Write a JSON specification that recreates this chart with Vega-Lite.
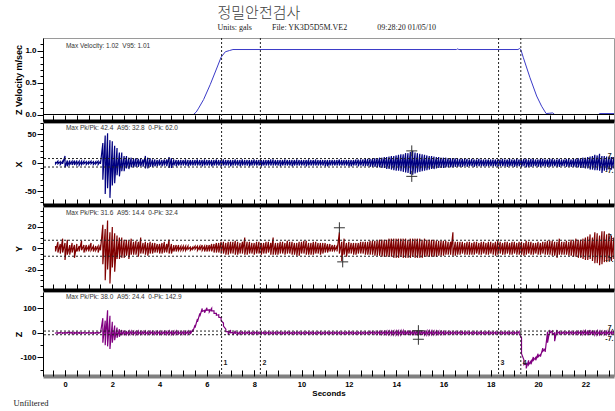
{
"$schema": "https://vega.github.io/schema/vega-lite/v6.json",
"usermeta": {"embedOptions": {"actions": false}},
"padding": {"left": 13, "top": 6, "right": 0, "bottom": 0},
"background": "white",
"config": {"view": {"stroke": "#9a9a9a", "strokeWidth": 1}, "font": "Liberation Sans", "axis": {"grid": false, "labelFont": "Liberation Sans", "titleFont": "Liberation Sans"}},
"title": {"text": "정밀안전검사", "subtitle": "\u00a0\u00a0\u00a0Units: gals\u00a0\u00a0\u00a0\u00a0\u00a0\u00a0\u00a0\u00a0\u00a0\u00a0File: YK3D5D5M.VE2\u00a0\u00a0\u00a0\u00a0\u00a0\u00a0\u00a0\u00a0\u00a0\u00a0\u00a0\u00a0\u00a0\u00a0\u00a009:28:20 01/05/10", "anchor": "start", "dx": 204, "font": "Noto Sans CJK KR", "fontSize": 15, "fontWeight": 300, "color": "#404040", "subtitleFont": "Liberation Serif", "subtitleFontSize": 8, "subtitleColor": "#222222", "subtitlePadding": 3, "offset": 5},
"datasets": {
"vel": [{"t":5.43,"v":0},{"t":5.55,"v":0.04},{"t":5.65,"v":0.1},{"t":5.86,"v":0.235},{"t":6.14,"v":0.47},{"t":6.42,"v":0.73},{"t":6.6,"v":0.9},{"t":6.78,"v":0.985},{"t":6.96,"v":1.005},{"t":7.1,"v":1.02},{"t":16.55,"v":1.02},{"t":16.6,"v":1.03},{"t":16.65,"v":1.02},{"t":19.15,"v":1.02},{"t":19.22,"v":1.035},{"t":19.27,"v":1.02},{"t":19.38,"v":0.89},{"t":19.66,"v":0.576},{"t":19.94,"v":0.29},{"t":20.15,"v":0.13},{"t":20.34,"v":0.015},{"t":20.5,"v":0.02},{"t":20.62,"v":0.025},{"t":20.7,"v":0},{"t":22.55,"v":0},{"t":22.6,"v":0.015},{"t":23.3,"v":0.015}],
"zero": [{"v":0}],
"marks": [{"t":6.62,"n":"1"},{"t":8.26,"n":"2"},{"t":18.33,"n":"3"},{"t":19.27,"n":"4"}],
"lev": [{"v":7.5,"lab":"7.","t":23.19},{"v":-7.5,"lab":"-7.","t":23.19}],
"notes": [{"panel":"V","label":"Max Velocity: 1.02\u00a0\u00a0V95: 1.01","t":0.04,"v":1.083},{"panel":"X","label":"Max Pk/Pk: 42.4\u00a0\u00a0A95: 32.8\u00a0\u00a00-Pk: 62.0","t":0.04,"v":61.8},{"panel":"Y","label":"Max Pk/Pk: 31.6\u00a0\u00a0A95: 14.4\u00a0\u00a00-Pk: 32.4","t":0.04,"v":33.5},{"panel":"Z","label":"Max Pk/Pk: 38.0\u00a0\u00a0A95: 24.4\u00a0\u00a00-Pk: 142.9","t":0.04,"v":145}],
"cross": [{"panel":"X","t":14.66,"v":21},{"panel":"X","t":14.66,"v":-24},{"panel":"Y","t":11.6,"v":19.2},{"panel":"Y","t":11.74,"v":-12.8},{"panel":"Z","t":14.94,"v":9},{"panel":"Z","t":14.94,"v":-26}],
"sig": [
{"t":-0.4,"Xh":2,"Xl":-2,"Yh":2,"Yl":-3,"Zh":2,"Zl":-1},
{"t":-0.3,"Xh":3,"Xl":-2,"Yh":6,"Yl":-4,"Zh":1,"Zl":-2},
{"t":-0.2,"Xh":2,"Xl":-3,"Yh":4,"Yl":-5,"Zh":2,"Zl":-1},
{"t":-0.1,"Xh":3,"Xl":-2,"Yh":9,"Yl":-4,"Zh":1,"Zl":-2},
{"t":0,"Xh":12,"Xl":-8,"Yh":5,"Yl":-11,"Zh":2,"Zl":-2},
{"t":0.1,"Xh":4,"Xl":-6,"Yh":8,"Yl":-6,"Zh":2,"Zl":-1},
{"t":0.2,"Xh":4,"Xl":-3,"Yh":3,"Yl":-6,"Zh":3,"Zl":-2},
{"t":0.3,"Xh":3,"Xl":-4,"Yh":5,"Yl":-4,"Zh":3,"Zl":-3},
{"t":0.4,"Xh":4,"Xl":-4,"Yh":3,"Yl":-9,"Zh":2,"Zl":-3},
{"t":0.5,"Xh":4,"Xl":-3,"Yh":4,"Yl":-3,"Zh":3,"Zl":-2},
{"t":0.6,"Xh":3,"Xl":-4,"Yh":2,"Yl":-3,"Zh":2,"Zl":-2},
{"t":0.7,"Xh":3,"Xl":-3,"Yh":7,"Yl":-2,"Zh":1,"Zl":-2},
{"t":0.8,"Xh":3,"Xl":-2,"Yh":3,"Yl":-4,"Zh":2,"Zl":-1},
{"t":0.9,"Xh":2,"Xl":-3,"Yh":3,"Yl":-2,"Zh":1,"Zl":-2},
{"t":1,"Xh":2,"Xl":-2,"Yh":2,"Yl":-3,"Zh":2,"Zl":-1},
{"t":1.1,"Xh":3,"Xl":-2,"Yh":5,"Yl":-2,"Zh":1,"Zl":-2},
{"t":1.2,"Xh":2,"Xl":-3,"Yh":2,"Yl":-3,"Zh":2,"Zl":-2},
{"t":1.3,"Xh":2,"Xl":-2,"Yh":2,"Yl":-2,"Zh":1,"Zl":-1},
{"t":1.4,"Xh":3,"Xl":-3,"Yh":2,"Yl":-4,"Zh":2,"Zl":-2},
{"t":1.5,"Xh":3,"Xl":-2,"Yh":3,"Yl":-2,"Zh":2,"Zl":-1},
{"t":1.6,"Xh":35,"Xl":-30,"Yh":22,"Yl":-15,"Zh":60,"Zl":-40},
{"t":1.7,"Xh":48,"Xl":-55,"Yh":18,"Yl":-30,"Zh":50,"Zl":-50},
{"t":1.8,"Xh":52,"Xl":-45,"Yh":26,"Yl":-20,"Zh":92,"Zl":-55},
{"t":1.9,"Xh":40,"Xl":-62,"Yh":15,"Yl":-33,"Zh":70,"Zl":-66},
{"t":2,"Xh":38,"Xl":-40,"Yh":20,"Yl":-18,"Zh":45,"Zl":-40},
{"t":2.1,"Xh":30,"Xl":-36,"Yh":14,"Yl":-22,"Zh":30,"Zl":-30},
{"t":2.2,"Xh":26,"Xl":-22,"Yh":12,"Yl":-10,"Zh":22,"Zl":-20},
{"t":2.3,"Xh":18,"Xl":-24,"Yh":10,"Yl":-10,"Zh":15,"Zl":-16},
{"t":2.4,"Xh":18,"Xl":-15,"Yh":10,"Yl":-9,"Zh":12,"Zl":-10},
{"t":2.5,"Xh":12,"Xl":-15,"Yh":8,"Yl":-9,"Zh":10,"Zl":-10},
{"t":2.6,"Xh":12,"Xl":-10,"Yh":8,"Yl":-7,"Zh":8,"Zl":-7},
{"t":2.7,"Xh":9,"Xl":-11,"Yh":7,"Yl":-10,"Zh":7,"Zl":-7},
{"t":2.8,"Xh":9,"Xl":-8,"Yh":9,"Yl":-6,"Zh":7,"Zl":-6},
{"t":2.9,"Xh":7,"Xl":-8,"Yh":6,"Yl":-6,"Zh":6,"Zl":-6},
{"t":3,"Xh":8,"Xl":-7,"Yh":7,"Yl":-6,"Zh":6,"Zl":-7},
{"t":3.1,"Xh":7,"Xl":-7,"Yh":6,"Yl":-8,"Zh":7,"Zl":-6},
{"t":3.2,"Xh":7,"Xl":-6,"Yh":10,"Yl":-5,"Zh":6,"Zl":-6},
{"t":3.3,"Xh":6,"Xl":-7,"Yh":5,"Yl":-5,"Zh":6,"Zl":-5},
{"t":3.4,"Xh":12,"Xl":-10,"Yh":6,"Yl":-6,"Zh":7,"Zl":-6},
{"t":3.5,"Xh":9,"Xl":-10,"Yh":5,"Yl":-7,"Zh":5,"Zl":-6},
{"t":3.6,"Xh":8,"Xl":-7,"Yh":6,"Yl":-5,"Zh":6,"Zl":-5},
{"t":3.7,"Xh":6,"Xl":-7,"Yh":5,"Yl":-5,"Zh":6,"Zl":-6},
{"t":3.8,"Xh":6,"Xl":-6,"Yh":5,"Yl":-4,"Zh":5,"Zl":-6},
{"t":3.9,"Xh":5,"Xl":-6,"Yh":4,"Yl":-4,"Zh":6,"Zl":-5},
{"t":4,"Xh":6,"Xl":-5,"Yh":4,"Yl":-5,"Zh":6,"Zl":-6},
{"t":4.1,"Xh":5,"Xl":-6,"Yh":5,"Yl":-5,"Zh":5,"Zl":-6},
{"t":4.2,"Xh":6,"Xl":-5,"Yh":6,"Yl":-4,"Zh":6,"Zl":-5},
{"t":4.3,"Xh":6,"Xl":-6,"Yh":4,"Yl":-4,"Zh":6,"Zl":-6},
{"t":4.4,"Xh":10,"Xl":-9,"Yh":8,"Yl":-5,"Zh":7,"Zl":-6},
{"t":4.5,"Xh":8,"Xl":-9,"Yh":4,"Yl":-5,"Zh":6,"Zl":-7},
{"t":4.6,"Xh":6,"Xl":-5,"Yh":3,"Yl":-3,"Zh":6,"Zl":-6},
{"t":4.7,"Xh":5,"Xl":-6,"Yh":3,"Yl":-3,"Zh":7,"Zl":-6},
{"t":4.8,"Xh":5,"Xl":-5,"Yh":3,"Yl":-2,"Zh":6,"Zl":-5},
{"t":4.9,"Xh":5,"Xl":-5,"Yh":2,"Yl":-2,"Zh":5,"Zl":-6},
{"t":5,"Xh":5,"Xl":-5,"Yh":2,"Yl":-2,"Zh":6,"Zl":-6},
{"t":5.1,"Xh":6,"Xl":-5,"Yh":2,"Yl":-2,"Zh":6,"Zl":-5},
{"t":5.2,"Xh":5,"Xl":-6,"Yh":2,"Yl":-1,"Zh":7,"Zl":-6},
{"t":5.3,"Xh":5,"Xl":-5,"Yh":1,"Yl":-2,"Zh":6,"Zl":-5},
{"t":5.4,"Xh":5,"Xl":-5,"Yh":1,"Yl":-1,"Zh":14,"Zl":4},
{"t":5.5,"Xh":5,"Xl":-5,"Yh":2,"Yl":-1,"Zh":32,"Zl":22},
{"t":5.6,"Xh":6,"Xl":-5,"Yh":2,"Yl":-2,"Zh":57,"Zl":45},
{"t":5.7,"Xh":5,"Xl":-5,"Yh":2,"Yl":-2,"Zh":80,"Zl":68},
{"t":5.8,"Xh":5,"Xl":-6,"Yh":3,"Yl":-2,"Zh":100,"Zl":88},
{"t":5.9,"Xh":6,"Xl":-5,"Yh":2,"Yl":-3,"Zh":92,"Zl":82},
{"t":6,"Xh":5,"Xl":-5,"Yh":3,"Yl":-3,"Zh":103,"Zl":92},
{"t":6.1,"Xh":5,"Xl":-5,"Yh":3,"Yl":-3,"Zh":94,"Zl":85},
{"t":6.2,"Xh":5,"Xl":-6,"Yh":4,"Yl":-3,"Zh":100,"Zl":90},
{"t":6.3,"Xh":5,"Xl":-5,"Yh":4,"Yl":-4,"Zh":90,"Zl":80},
{"t":6.4,"Xh":6,"Xl":-5,"Yh":5,"Yl":-4,"Zh":80,"Zl":72},
{"t":6.5,"Xh":5,"Xl":-5,"Yh":5,"Yl":-4,"Zh":74,"Zl":64},
{"t":6.6,"Xh":5,"Xl":-6,"Yh":6,"Yl":-5,"Zh":62,"Zl":50},
{"t":6.7,"Xh":6,"Xl":-5,"Yh":6,"Yl":-5,"Zh":40,"Zl":28},
{"t":6.8,"Xh":5,"Xl":-5,"Yh":5,"Yl":-6,"Zh":15,"Zl":5},
{"t":6.9,"Xh":5,"Xl":-5,"Yh":6,"Yl":-6,"Zh":5,"Zl":-8},
{"t":7,"Xh":5,"Xl":-6,"Yh":6,"Yl":-5,"Zh":12,"Zl":0},
{"t":7.1,"Xh":5,"Xl":-5,"Yh":6,"Yl":-5,"Zh":2,"Zl":-9},
{"t":7.2,"Xh":6,"Xl":-5,"Yh":7,"Yl":-6,"Zh":9,"Zl":-2},
{"t":7.3,"Xh":5,"Xl":-5,"Yh":6,"Yl":-6,"Zh":2,"Zl":-7},
{"t":7.4,"Xh":5,"Xl":-6,"Yh":5,"Yl":-5,"Zh":5,"Zl":-4},
{"t":7.5,"Xh":6,"Xl":-5,"Yh":6,"Yl":-5,"Zh":4,"Zl":-4},
{"t":7.6,"Xh":5,"Xl":-5,"Yh":10,"Yl":-6,"Zh":4,"Zl":-4},
{"t":7.7,"Xh":5,"Xl":-5,"Yh":6,"Yl":-6,"Zh":4,"Zl":-3},
{"t":7.8,"Xh":5,"Xl":-6,"Yh":6,"Yl":-5,"Zh":4,"Zl":-4},
{"t":7.9,"Xh":5,"Xl":-5,"Yh":5,"Yl":-5,"Zh":3,"Zl":-4},
{"t":8,"Xh":6,"Xl":-5,"Yh":5,"Yl":-6,"Zh":4,"Zl":-4},
{"t":8.1,"Xh":5,"Xl":-5,"Yh":6,"Yl":-5,"Zh":4,"Zl":-3},
{"t":8.2,"Xh":5,"Xl":-5,"Yh":6,"Yl":-5,"Zh":3,"Zl":-4},
{"t":8.3,"Xh":5,"Xl":-6,"Yh":5,"Yl":-6,"Zh":4,"Zl":-4},
{"t":8.4,"Xh":5,"Xl":-5,"Yh":5,"Yl":-5,"Zh":4,"Zl":-3},
{"t":8.5,"Xh":5,"Xl":-5,"Yh":6,"Yl":-5,"Zh":3,"Zl":-4},
{"t":8.6,"Xh":5,"Xl":-5,"Yh":6,"Yl":-4,"Zh":4,"Zl":-4},
{"t":8.7,"Xh":6,"Xl":-5,"Yh":5,"Yl":-6,"Zh":4,"Zl":-4},
{"t":8.8,"Xh":6,"Xl":-5,"Yh":10,"Yl":-6,"Zh":3,"Zl":-4},
{"t":8.9,"Xh":5,"Xl":-5,"Yh":5,"Yl":-6,"Zh":4,"Zl":-4},
{"t":9,"Xh":5,"Xl":-5,"Yh":5,"Yl":-6,"Zh":4,"Zl":-3},
{"t":9.1,"Xh":5,"Xl":-6,"Yh":6,"Yl":-5,"Zh":4,"Zl":-4},
{"t":9.2,"Xh":5,"Xl":-5,"Yh":6,"Yl":-5,"Zh":3,"Zl":-4},
{"t":9.3,"Xh":6,"Xl":-5,"Yh":5,"Yl":-6,"Zh":4,"Zl":-4},
{"t":9.4,"Xh":5,"Xl":-5,"Yh":7,"Yl":-5,"Zh":4,"Zl":-3},
{"t":9.5,"Xh":5,"Xl":-5,"Yh":6,"Yl":-5,"Zh":4,"Zl":-4},
{"t":9.6,"Xh":5,"Xl":-6,"Yh":6,"Yl":-6,"Zh":3,"Zl":-4},
{"t":9.7,"Xh":5,"Xl":-5,"Yh":5,"Yl":-6,"Zh":4,"Zl":-4},
{"t":9.8,"Xh":6,"Xl":-5,"Yh":5,"Yl":-7,"Zh":4,"Zl":-3},
{"t":9.9,"Xh":5,"Xl":-5,"Yh":6,"Yl":-7,"Zh":4,"Zl":-4},
{"t":10,"Xh":5,"Xl":-5,"Yh":6,"Yl":-5,"Zh":3,"Zl":-4},
{"t":10.1,"Xh":5,"Xl":-5,"Yh":7,"Yl":-5,"Zh":4,"Zl":-4},
{"t":10.2,"Xh":5,"Xl":-6,"Yh":7,"Yl":-6,"Zh":4,"Zl":-3},
{"t":10.3,"Xh":6,"Xl":-5,"Yh":5,"Yl":-6,"Zh":3,"Zl":-4},
{"t":10.4,"Xh":5,"Xl":-5,"Yh":5,"Yl":-6,"Zh":4,"Zl":-4},
{"t":10.5,"Xh":5,"Xl":-5,"Yh":6,"Yl":-6,"Zh":4,"Zl":-4},
{"t":10.6,"Xh":6,"Xl":-5,"Yh":6,"Yl":-5,"Zh":3,"Zl":-4},
{"t":10.7,"Xh":5,"Xl":-5,"Yh":5,"Yl":-5,"Zh":4,"Zl":-3},
{"t":10.8,"Xh":5,"Xl":-5,"Yh":5,"Yl":-6,"Zh":4,"Zl":-4},
{"t":10.9,"Xh":5,"Xl":-5,"Yh":5,"Yl":-5,"Zh":3,"Zl":-4},
{"t":11,"Xh":5,"Xl":-6,"Yh":5,"Yl":-4,"Zh":4,"Zl":-4},
{"t":11.1,"Xh":5,"Xl":-6,"Yh":4,"Yl":-4,"Zh":4,"Zl":-3},
{"t":11.2,"Xh":5,"Xl":-5,"Yh":4,"Yl":-3,"Zh":3,"Zl":-4},
{"t":11.3,"Xh":5,"Xl":-5,"Yh":3,"Yl":-3,"Zh":4,"Zl":-4},
{"t":11.4,"Xh":5,"Xl":-5,"Yh":3,"Yl":-2,"Zh":4,"Zl":-3},
{"t":11.5,"Xh":5,"Xl":-5,"Yh":2,"Yl":-3,"Zh":3,"Zl":-4},
{"t":11.6,"Xh":6,"Xl":-5,"Yh":15,"Yl":-5,"Zh":4,"Zl":-4},
{"t":11.7,"Xh":5,"Xl":-5,"Yh":6,"Yl":-12,"Zh":4,"Zl":-4},
{"t":11.8,"Xh":5,"Xl":-5,"Yh":9,"Yl":-6,"Zh":3,"Zl":-4},
{"t":11.9,"Xh":5,"Xl":-5,"Yh":5,"Yl":-8,"Zh":4,"Zl":-4},
{"t":12,"Xh":5,"Xl":-6,"Yh":6,"Yl":-5,"Zh":4,"Zl":-3},
{"t":12.1,"Xh":5,"Xl":-6,"Yh":5,"Yl":-5,"Zh":4,"Zl":-4},
{"t":12.2,"Xh":5,"Xl":-5,"Yh":5,"Yl":-6,"Zh":4,"Zl":-4},
{"t":12.3,"Xh":6,"Xl":-5,"Yh":5,"Yl":-6,"Zh":3,"Zl":-4},
{"t":12.4,"Xh":6,"Xl":-6,"Yh":5,"Yl":-5,"Zh":4,"Zl":-4},
{"t":12.5,"Xh":6,"Xl":-5,"Yh":6,"Yl":-5,"Zh":4,"Zl":-4},
{"t":12.6,"Xh":6,"Xl":-6,"Yh":6,"Yl":-5,"Zh":4,"Zl":-4},
{"t":12.7,"Xh":7,"Xl":-6,"Yh":6,"Yl":-6,"Zh":4,"Zl":-4},
{"t":12.8,"Xh":7,"Xl":-6,"Yh":6,"Yl":-6,"Zh":4,"Zl":-4},
{"t":12.9,"Xh":7,"Xl":-7,"Yh":7,"Yl":-6,"Zh":5,"Zl":-4},
{"t":13,"Xh":7,"Xl":-7,"Yh":7,"Yl":-6,"Zh":5,"Zl":-4},
{"t":13.1,"Xh":8,"Xl":-7,"Yh":7,"Yl":-7,"Zh":5,"Zl":-5},
{"t":13.2,"Xh":8,"Xl":-8,"Yh":7,"Yl":-7,"Zh":5,"Zl":-5},
{"t":13.3,"Xh":9,"Xl":-8,"Yh":8,"Yl":-7,"Zh":6,"Zl":-5},
{"t":13.4,"Xh":9,"Xl":-9,"Yh":8,"Yl":-8,"Zh":6,"Zl":-6},
{"t":13.5,"Xh":10,"Xl":-9,"Yh":8,"Yl":-8,"Zh":6,"Zl":-6},
{"t":13.6,"Xh":10,"Xl":-11,"Yh":8,"Yl":-8,"Zh":7,"Zl":-6},
{"t":13.7,"Xh":11,"Xl":-11,"Yh":9,"Yl":-8,"Zh":7,"Zl":-7},
{"t":13.8,"Xh":12,"Xl":-12,"Yh":9,"Yl":-8,"Zh":7,"Zl":-7},
{"t":13.9,"Xh":12,"Xl":-13,"Yh":9,"Yl":-9,"Zh":8,"Zl":-7},
{"t":14,"Xh":13,"Xl":-14,"Yh":9,"Yl":-9,"Zh":8,"Zl":-8},
{"t":14.1,"Xh":14,"Xl":-14,"Yh":9,"Yl":-9,"Zh":8,"Zl":-8},
{"t":14.2,"Xh":15,"Xl":-15,"Yh":9,"Yl":-8,"Zh":9,"Zl":-8},
{"t":14.3,"Xh":15,"Xl":-16,"Yh":9,"Yl":-9,"Zh":9,"Zl":-9},
{"t":14.4,"Xh":17,"Xl":-17,"Yh":9,"Yl":-9,"Zh":9,"Zl":-9},
{"t":14.5,"Xh":17,"Xl":-18,"Yh":8,"Yl":-9,"Zh":10,"Zl":-9},
{"t":14.6,"Xh":19,"Xl":-20,"Yh":9,"Yl":-9,"Zh":10,"Zl":-10},
{"t":14.7,"Xh":21,"Xl":-21,"Yh":9,"Yl":-8,"Zh":10,"Zl":-10},
{"t":14.8,"Xh":18,"Xl":-19,"Yh":9,"Yl":-9,"Zh":10,"Zl":-10},
{"t":14.9,"Xh":17,"Xl":-17,"Yh":9,"Yl":-9,"Zh":10,"Zl":-10},
{"t":15,"Xh":16,"Xl":-16,"Yh":9,"Yl":-9,"Zh":9,"Zl":-9},
{"t":15.1,"Xh":15,"Xl":-15,"Yh":8,"Yl":-9,"Zh":9,"Zl":-9},
{"t":15.2,"Xh":14,"Xl":-14,"Yh":9,"Yl":-8,"Zh":9,"Zl":-8},
{"t":15.3,"Xh":13,"Xl":-13,"Yh":8,"Yl":-8,"Zh":8,"Zl":-8},
{"t":15.4,"Xh":12,"Xl":-12,"Yh":8,"Yl":-8,"Zh":8,"Zl":-8},
{"t":15.5,"Xh":12,"Xl":-11,"Yh":8,"Yl":-8,"Zh":8,"Zl":-7},
{"t":15.6,"Xh":11,"Xl":-11,"Yh":8,"Yl":-8,"Zh":7,"Zl":-7},
{"t":15.7,"Xh":10,"Xl":-10,"Yh":7,"Yl":-8,"Zh":7,"Zl":-7},
{"t":15.8,"Xh":10,"Xl":-9,"Yh":7,"Yl":-7,"Zh":7,"Zl":-6},
{"t":15.9,"Xh":9,"Xl":-9,"Yh":7,"Yl":-7,"Zh":6,"Zl":-6},
{"t":16,"Xh":9,"Xl":-9,"Yh":7,"Yl":-7,"Zh":6,"Zl":-6},
{"t":16.1,"Xh":9,"Xl":-8,"Yh":7,"Yl":-6,"Zh":5,"Zl":-5},
{"t":16.2,"Xh":8,"Xl":-8,"Yh":6,"Yl":-6,"Zh":5,"Zl":-5},
{"t":16.3,"Xh":8,"Xl":-8,"Yh":6,"Yl":-6,"Zh":5,"Zl":-5},
{"t":16.4,"Xh":8,"Xl":-8,"Yh":15,"Yl":-7,"Zh":5,"Zl":-5},
{"t":16.5,"Xh":8,"Xl":-7,"Yh":6,"Yl":-7,"Zh":5,"Zl":-5},
{"t":16.6,"Xh":7,"Xl":-7,"Yh":6,"Yl":-6,"Zh":5,"Zl":-4},
{"t":16.7,"Xh":7,"Xl":-7,"Yh":6,"Yl":-6,"Zh":5,"Zl":-4},
{"t":16.8,"Xh":7,"Xl":-7,"Yh":6,"Yl":-5,"Zh":5,"Zl":-5},
{"t":16.9,"Xh":7,"Xl":-6,"Yh":5,"Yl":-6,"Zh":4,"Zl":-5},
{"t":17,"Xh":7,"Xl":-7,"Yh":6,"Yl":-6,"Zh":5,"Zl":-4},
{"t":17.1,"Xh":6,"Xl":-6,"Yh":6,"Yl":-6,"Zh":4,"Zl":-4},
{"t":17.2,"Xh":7,"Xl":-6,"Yh":5,"Yl":-6,"Zh":4,"Zl":-5},
{"t":17.3,"Xh":6,"Xl":-7,"Yh":6,"Yl":-6,"Zh":5,"Zl":-4},
{"t":17.4,"Xh":6,"Xl":-6,"Yh":6,"Yl":-5,"Zh":4,"Zl":-4},
{"t":17.5,"Xh":7,"Xl":-6,"Yh":5,"Yl":-6,"Zh":4,"Zl":-5},
{"t":17.6,"Xh":6,"Xl":-6,"Yh":6,"Yl":-6,"Zh":5,"Zl":-4},
{"t":17.7,"Xh":6,"Xl":-6,"Yh":6,"Yl":-5,"Zh":4,"Zl":-4},
{"t":17.8,"Xh":6,"Xl":-6,"Yh":5,"Yl":-6,"Zh":4,"Zl":-5},
{"t":17.9,"Xh":6,"Xl":-6,"Yh":6,"Yl":-6,"Zh":5,"Zl":-4},
{"t":18,"Xh":6,"Xl":-6,"Yh":6,"Yl":-5,"Zh":4,"Zl":-4},
{"t":18.1,"Xh":6,"Xl":-6,"Yh":5,"Yl":-6,"Zh":4,"Zl":-4},
{"t":18.2,"Xh":6,"Xl":-6,"Yh":6,"Yl":-7,"Zh":4,"Zl":-4},
{"t":18.3,"Xh":6,"Xl":-7,"Yh":7,"Yl":-6,"Zh":4,"Zl":-4},
{"t":18.4,"Xh":6,"Xl":-6,"Yh":6,"Yl":-5,"Zh":4,"Zl":-4},
{"t":18.5,"Xh":7,"Xl":-6,"Yh":5,"Yl":-6,"Zh":4,"Zl":-4},
{"t":18.6,"Xh":6,"Xl":-6,"Yh":6,"Yl":-6,"Zh":4,"Zl":-4},
{"t":18.7,"Xh":6,"Xl":-7,"Yh":6,"Yl":-5,"Zh":4,"Zl":-4},
{"t":18.8,"Xh":7,"Xl":-6,"Yh":5,"Yl":-6,"Zh":4,"Zl":-4},
{"t":18.9,"Xh":6,"Xl":-6,"Yh":6,"Yl":-6,"Zh":4,"Zl":-4},
{"t":19,"Xh":6,"Xl":-7,"Yh":6,"Yl":-5,"Zh":4,"Zl":-4},
{"t":19.1,"Xh":7,"Xl":-6,"Yh":5,"Yl":-6,"Zh":4,"Zl":-4},
{"t":19.2,"Xh":6,"Xl":-6,"Yh":6,"Yl":-6,"Zh":6,"Zl":-4},
{"t":19.3,"Xh":6,"Xl":-7,"Yh":6,"Yl":-6,"Zh":-20,"Zl":-85},
{"t":19.4,"Xh":7,"Xl":-6,"Yh":5,"Yl":-7,"Zh":-110,"Zl":-130},
{"t":19.5,"Xh":7,"Xl":-8,"Yh":7,"Yl":-6,"Zh":-125,"Zl":-145},
{"t":19.6,"Xh":6,"Xl":-7,"Yh":6,"Yl":-5,"Zh":-112,"Zl":-130},
{"t":19.7,"Xh":7,"Xl":-7,"Yh":6,"Yl":-6,"Zh":-115,"Zl":-128},
{"t":19.8,"Xh":7,"Xl":-6,"Yh":5,"Yl":-6,"Zh":-98,"Zl":-112},
{"t":19.9,"Xh":6,"Xl":-6,"Yh":5,"Yl":-5,"Zh":-100,"Zl":-112},
{"t":20,"Xh":6,"Xl":-7,"Yh":6,"Yl":-6,"Zh":-85,"Zl":-98},
{"t":20.1,"Xh":7,"Xl":-7,"Yh":5,"Yl":-6,"Zh":-88,"Zl":-97},
{"t":20.2,"Xh":7,"Xl":-6,"Yh":6,"Yl":-5,"Zh":-62,"Zl":-75},
{"t":20.3,"Xh":6,"Xl":-6,"Yh":6,"Yl":-6,"Zh":-65,"Zl":-78},
{"t":20.4,"Xh":6,"Xl":-7,"Yh":7,"Yl":-6,"Zh":5,"Zl":-40},
{"t":20.5,"Xh":7,"Xl":-7,"Yh":7,"Yl":-6,"Zh":12,"Zl":0},
{"t":20.6,"Xh":7,"Xl":-6,"Yh":7,"Yl":-7,"Zh":8,"Zl":-6},
{"t":20.7,"Xh":6,"Xl":-6,"Yh":6,"Yl":-7,"Zh":0,"Zl":-34},
{"t":20.8,"Xh":6,"Xl":-7,"Yh":6,"Yl":-9,"Zh":12,"Zl":-3},
{"t":20.9,"Xh":7,"Xl":-7,"Yh":9,"Yl":-6,"Zh":5,"Zl":-5},
{"t":21,"Xh":6,"Xl":-6,"Yh":6,"Yl":-6,"Zh":4,"Zl":-4},
{"t":21.1,"Xh":6,"Xl":-6,"Yh":6,"Yl":-6,"Zh":5,"Zl":-4},
{"t":21.2,"Xh":7,"Xl":-7,"Yh":7,"Yl":-6,"Zh":4,"Zl":-4},
{"t":21.3,"Xh":7,"Xl":-7,"Yh":6,"Yl":-7,"Zh":5,"Zl":-4},
{"t":21.4,"Xh":6,"Xl":-7,"Yh":8,"Yl":-7,"Zh":5,"Zl":-5},
{"t":21.5,"Xh":7,"Xl":-7,"Yh":7,"Yl":-8,"Zh":5,"Zl":-5},
{"t":21.6,"Xh":7,"Xl":-8,"Yh":9,"Yl":-8,"Zh":5,"Zl":-5},
{"t":21.7,"Xh":8,"Xl":-8,"Yh":8,"Yl":-9,"Zh":6,"Zl":-5},
{"t":21.8,"Xh":8,"Xl":-9,"Yh":8,"Yl":-9,"Zh":6,"Zl":-6},
{"t":21.9,"Xh":9,"Xl":-9,"Yh":9,"Yl":-10,"Zh":7,"Zl":-6},
{"t":22,"Xh":9,"Xl":-10,"Yh":10,"Yl":-11,"Zh":9,"Zl":-10},
{"t":22.1,"Xh":10,"Xl":-10,"Yh":11,"Yl":-11,"Zh":10,"Zl":-10},
{"t":22.2,"Xh":11,"Xl":-12,"Yh":13,"Yl":-10,"Zh":12,"Zl":-9},
{"t":22.3,"Xh":12,"Xl":-12,"Yh":10,"Yl":-12,"Zh":10,"Zl":-9},
{"t":22.4,"Xh":14,"Xl":-13,"Yh":15,"Yl":-14,"Zh":10,"Zl":-8},
{"t":22.5,"Xh":13,"Xl":-13,"Yh":14,"Yl":-14,"Zh":8,"Zl":-8},
{"t":22.6,"Xh":16,"Xl":-14,"Yh":12,"Yl":-16,"Zh":7,"Zl":-7},
{"t":22.7,"Xh":12,"Xl":-18,"Yh":16,"Yl":-15,"Zh":6,"Zl":-6},
{"t":22.8,"Xh":12,"Xl":-14,"Yh":16,"Yl":-13,"Zh":6,"Zl":-7},
{"t":22.9,"Xh":11,"Xl":-14,"Yh":13,"Yl":-13,"Zh":7,"Zl":-6},
{"t":23,"Xh":11,"Xl":-12,"Yh":14,"Yl":-12,"Zh":7,"Zl":-6},
{"t":23.1,"Xh":10,"Xl":-12,"Yh":12,"Yl":-12,"Zh":6,"Zl":-6},
{"t":23.2,"Xh":10,"Xl":-10,"Yh":10,"Yl":-10,"Zh":6,"Zl":-6}
]
},
"vconcat": [{
"title": {"text": "Unfiltered", "orient": "bottom", "anchor": "start", "font": "Liberation Serif", "fontSize": 8.5, "fontWeight": "normal", "color": "#222222", "offset": 1},
"spacing": 0,
"resolve": {"scale": {"y": "independent"}},
"vconcat": [
{"width": 571, "height": 83, "resolve": {"axis": {"x": "independent", "y": "independent"}}, "layer": [
 {"data": {"name": "vel"}, "mark": {"type": "line", "color": "#3a3ac8", "strokeWidth": 1, "clip": true}, "encoding": {
   "x": {"field": "t", "type": "quantitative", "scale": {"domain": [-0.93, 23.21], "nice": false, "zero": false}, "axis": {"orient": "bottom", "values": [-0.5,0,0.5,1,1.5,2,2.5,3,3.5,4,4.5,5,5.5,6,6.5,7,7.5,8,8.5,9,9.5,10,10.5,11,11.5,12,12.5,13,13.5,14,14.5,15,15.5,16,16.5,17,17.5,18,18.5,19,19.5,20,20.5,21,21.5,22,22.5,23], "labels": false, "title": null, "domainColor": "black", "domainWidth": 4, "tickColor": "black", "tickSize": -6, "tickWidth": 1}},
   "y": {"field": "v", "type": "quantitative", "scale": {"domain": [-0.102, 1.201], "nice": false, "zero": false}, "axis": {"orient": "left", "values": [0, 0.5, 1], "format": ".1f", "labelOverlap": false, "labelFlush": false, "labelFontWeight": "bold", "labelFontSize": 8, "labelColor": "black", "labelPadding": 1, "tickSize": 6, "tickColor": "black", "domainColor": "black", "title": "Z Velocity m/sec", "titleFontWeight": "bold", "titleFontSize": 9, "titleColor": "black", "titleX": -25, "titleBaseline": "middle"}}}},
 {"data": {"name": "zero"}, "mark": {"type": "rule", "color": "black", "strokeWidth": 1}, "encoding": {"y": {"field": "v", "type": "quantitative", "scale": {"domain": [-0.102, 1.201], "nice": false, "zero": false}, "axis": {"orient": "left", "values": [0,0.1,0.2,0.3,0.4,0.5,0.6,0.7,0.8,0.9,1,1.1], "labels": false, "domain": false, "title": null, "tickSize": 3, "tickColor": "black"}}}},
 {"data": {"name": "marks"}, "mark": {"type": "rule", "color": "#222222", "strokeWidth": 1, "strokeDash": [2, 2]}, "encoding": {"x": {"field": "t", "type": "quantitative", "scale": {"domain": [-0.93, 23.21], "nice": false, "zero": false}, "axis": null}}},
 {"data": {"name": "notes"}, "transform": [{"filter": "datum.panel == 'V'"}], "mark": {"type": "text", "align": "left", "baseline": "middle", "fontSize": 6.5, "color": "#333333"}, "encoding": {
   "x": {"field": "t", "type": "quantitative", "scale": {"domain": [-0.93, 23.21], "nice": false, "zero": false}, "axis": null},
   "y": {"field": "v", "type": "quantitative", "scale": {"domain": [-0.102, 1.201], "nice": false, "zero": false}, "axis": null},
   "text": {"field": "label"}}}
]},
{"width": 571, "height": 82, "resolve": {"axis": {"x": "independent", "y": "independent"}}, "layer": [
 {"data": {"name": "sig"}, "transform": [{"fold": ["Xh", "Xl"], "as": ["k", "v"]}], "mark": {"type": "line", "color": "#000080", "strokeWidth": 1.2, "clip": true}, "encoding": {
   "x": {"field": "t", "type": "quantitative", "scale": {"domain": [-0.93, 23.21], "nice": false, "zero": false}, "axis": {"orient": "bottom", "values": [-0.5,0,0.5,1,1.5,2,2.5,3,3.5,4,4.5,5,5.5,6,6.5,7,7.5,8,8.5,9,9.5,10,10.5,11,11.5,12,12.5,13,13.5,14,14.5,15,15.5,16,16.5,17,17.5,18,18.5,19,19.5,20,20.5,21,21.5,22,22.5,23], "labels": false, "title": null, "domainColor": "black", "domainWidth": 4, "tickColor": "black", "tickSize": -6, "tickWidth": 1}},
   "y": {"field": "v", "type": "quantitative", "scale": {"domain": [-74.6, 70.3], "nice": false, "zero": false}, "axis": {"orient": "left", "values": [-50, 0, 50], "labelExpr": "toString(datum.value)", "labelOverlap": false, "labelFlush": false, "labelFontWeight": "bold", "labelFontSize": 8, "labelColor": "black", "labelPadding": 1, "tickSize": 6, "tickColor": "black", "domainColor": "black", "title": "X", "titleFontWeight": "bold", "titleFontSize": 9, "titleColor": "black", "titleX": -25, "titleBaseline": "middle"}},
   "order": [{"field": "t", "type": "quantitative"}, {"field": "k", "type": "nominal"}]}},
 {"data": {"name": "lev"}, "mark": {"type": "rule", "color": "#222222", "strokeWidth": 1, "strokeDash": [2, 2]}, "encoding": {"y": {"field": "v", "type": "quantitative", "scale": {"domain": [-74.6, 70.3], "nice": false, "zero": false}, "axis": {"orient": "left", "values": [-70,-60,-50,-40,-30,-20,-10,0,10,20,30,40,50,60,70], "labels": false, "domain": false, "title": null, "tickSize": 3, "tickColor": "black"}}}},
 {"data": {"name": "marks"}, "mark": {"type": "rule", "color": "#222222", "strokeWidth": 1, "strokeDash": [2, 2]}, "encoding": {"x": {"field": "t", "type": "quantitative", "scale": {"domain": [-0.93, 23.21], "nice": false, "zero": false}, "axis": null}}},
 {"data": {"name": "cross"}, "transform": [{"filter": "datum.panel == 'X'"}], "mark": {"type": "point", "shape": "M-1,0L1,0M0,-1L0,1", "filled": false, "size": 121, "color": "#333333", "strokeWidth": 1, "opacity": 1}, "encoding": {
   "x": {"field": "t", "type": "quantitative", "scale": {"domain": [-0.93, 23.21], "nice": false, "zero": false}, "axis": null},
   "y": {"field": "v", "type": "quantitative", "scale": {"domain": [-74.6, 70.3], "nice": false, "zero": false}, "axis": null}}},
 {"data": {"name": "notes"}, "transform": [{"filter": "datum.panel == 'X'"}], "mark": {"type": "text", "align": "left", "baseline": "middle", "fontSize": 6.5, "color": "#333333"}, "encoding": {
   "x": {"field": "t", "type": "quantitative", "scale": {"domain": [-0.93, 23.21], "nice": false, "zero": false}, "axis": null},
   "y": {"field": "v", "type": "quantitative", "scale": {"domain": [-74.6, 70.3], "nice": false, "zero": false}, "axis": null},
   "text": {"field": "label"}}},
 {"data": {"name": "lev"}, "transform": [{"filter": "datum.v > 0"}], "mark": {"type": "text", "align": "right", "baseline": "bottom", "fontSize": 7, "fontWeight": "bold", "color": "#222222"}, "encoding": {
   "x": {"field": "t", "type": "quantitative", "scale": {"domain": [-0.93, 23.21], "nice": false, "zero": false}, "axis": null},
   "y": {"field": "v", "type": "quantitative", "scale": {"domain": [-74.6, 70.3], "nice": false, "zero": false}, "axis": null},
   "text": {"field": "lab"}}},
 {"data": {"name": "lev"}, "transform": [{"filter": "datum.v < 0"}], "mark": {"type": "text", "align": "right", "baseline": "top", "fontSize": 7, "fontWeight": "bold", "color": "#222222"}, "encoding": {
   "x": {"field": "t", "type": "quantitative", "scale": {"domain": [-0.93, 23.21], "nice": false, "zero": false}, "axis": null},
   "y": {"field": "v", "type": "quantitative", "scale": {"domain": [-74.6, 70.3], "nice": false, "zero": false}, "axis": null},
   "text": {"field": "lab"}}}
]},
{"width": 571, "height": 83, "resolve": {"axis": {"x": "independent", "y": "independent"}}, "layer": [
 {"data": {"name": "sig"}, "transform": [{"fold": ["Yh", "Yl"], "as": ["k", "v"]}], "mark": {"type": "line", "color": "#800000", "strokeWidth": 1.2, "clip": true}, "encoding": {
   "x": {"field": "t", "type": "quantitative", "scale": {"domain": [-0.93, 23.21], "nice": false, "zero": false}, "axis": {"orient": "bottom", "values": [-0.5,0,0.5,1,1.5,2,2.5,3,3.5,4,4.5,5,5.5,6,6.5,7,7.5,8,8.5,9,9.5,10,10.5,11,11.5,12,12.5,13,13.5,14,14.5,15,15.5,16,16.5,17,17.5,18,18.5,19,19.5,20,20.5,21,21.5,22,22.5,23], "labels": false, "title": null, "domainColor": "black", "domainWidth": 4, "tickColor": "black", "tickSize": -6, "tickWidth": 1}},
   "y": {"field": "v", "type": "quantitative", "scale": {"domain": [-39.2, 38.7], "nice": false, "zero": false}, "axis": {"orient": "left", "values": [-20, 0, 20], "labelExpr": "toString(datum.value)", "labelOverlap": false, "labelFlush": false, "labelFontWeight": "bold", "labelFontSize": 8, "labelColor": "black", "labelPadding": 1, "tickSize": 6, "tickColor": "black", "domainColor": "black", "title": "Y", "titleFontWeight": "bold", "titleFontSize": 9, "titleColor": "black", "titleX": -25, "titleBaseline": "middle"}},
   "order": [{"field": "t", "type": "quantitative"}, {"field": "k", "type": "nominal"}]}},
 {"data": {"name": "lev"}, "mark": {"type": "rule", "color": "#222222", "strokeWidth": 1, "strokeDash": [2, 2]}, "encoding": {"y": {"field": "v", "type": "quantitative", "scale": {"domain": [-39.2, 38.7], "nice": false, "zero": false}, "axis": {"orient": "left", "values": [-35,-30,-25,-20,-15,-10,-5,0,5,10,15,20,25,30,35], "labels": false, "domain": false, "title": null, "tickSize": 3, "tickColor": "black"}}}},
 {"data": {"name": "marks"}, "mark": {"type": "rule", "color": "#222222", "strokeWidth": 1, "strokeDash": [2, 2]}, "encoding": {"x": {"field": "t", "type": "quantitative", "scale": {"domain": [-0.93, 23.21], "nice": false, "zero": false}, "axis": null}}},
 {"data": {"name": "cross"}, "transform": [{"filter": "datum.panel == 'Y'"}], "mark": {"type": "point", "shape": "M-1,0L1,0M0,-1L0,1", "filled": false, "size": 121, "color": "#333333", "strokeWidth": 1, "opacity": 1}, "encoding": {
   "x": {"field": "t", "type": "quantitative", "scale": {"domain": [-0.93, 23.21], "nice": false, "zero": false}, "axis": null},
   "y": {"field": "v", "type": "quantitative", "scale": {"domain": [-39.2, 38.7], "nice": false, "zero": false}, "axis": null}}},
 {"data": {"name": "notes"}, "transform": [{"filter": "datum.panel == 'Y'"}], "mark": {"type": "text", "align": "left", "baseline": "middle", "fontSize": 6.5, "color": "#333333"}, "encoding": {
   "x": {"field": "t", "type": "quantitative", "scale": {"domain": [-0.93, 23.21], "nice": false, "zero": false}, "axis": null},
   "y": {"field": "v", "type": "quantitative", "scale": {"domain": [-39.2, 38.7], "nice": false, "zero": false}, "axis": null},
   "text": {"field": "label"}}},
 {"data": {"name": "lev"}, "transform": [{"filter": "datum.v > 0"}], "mark": {"type": "text", "align": "right", "baseline": "bottom", "fontSize": 7, "fontWeight": "bold", "color": "#222222"}, "encoding": {
   "x": {"field": "t", "type": "quantitative", "scale": {"domain": [-0.93, 23.21], "nice": false, "zero": false}, "axis": null},
   "y": {"field": "v", "type": "quantitative", "scale": {"domain": [-39.2, 38.7], "nice": false, "zero": false}, "axis": null},
   "text": {"field": "lab"}}},
 {"data": {"name": "lev"}, "transform": [{"filter": "datum.v < 0"}], "mark": {"type": "text", "align": "right", "baseline": "top", "fontSize": 7, "fontWeight": "bold", "color": "#222222"}, "encoding": {
   "x": {"field": "t", "type": "quantitative", "scale": {"domain": [-0.93, 23.21], "nice": false, "zero": false}, "axis": null},
   "y": {"field": "v", "type": "quantitative", "scale": {"domain": [-39.2, 38.7], "nice": false, "zero": false}, "axis": null},
   "text": {"field": "lab"}}}
]},
{"width": 571, "height": 84, "resolve": {"axis": {"x": "independent", "y": "independent"}}, "layer": [
 {"data": {"name": "sig"}, "transform": [{"fold": ["Zh", "Zl"], "as": ["k", "v"]}], "mark": {"type": "line", "color": "#800080", "strokeWidth": 1.2, "clip": true}, "encoding": {
   "x": {"field": "t", "type": "quantitative", "scale": {"domain": [-0.93, 23.21], "nice": false, "zero": false}, "axis": {"orient": "bottom", "values": [0,2,4,6,8,10,12,14,16,18,20,22], "labelExpr": "toString(datum.value)", "labelOverlap": false, "labelFlush": false, "labelBound": false, "labelFontWeight": "bold", "labelFontSize": 7.5, "labelColor": "black", "labelPadding": 10, "title": "Seconds", "titleFontWeight": "bold", "titleFontSize": 8, "titleColor": "black", "titlePadding": 2, "domainColor": "#808080", "domainWidth": 4, "tickColor": "black", "tickSize": -6, "tickWidth": 1}},
   "y": {"field": "v", "type": "quantitative", "scale": {"domain": [-176, 166.9], "nice": false, "zero": false}, "axis": {"orient": "left", "values": [-100, 0, 100], "labelExpr": "toString(datum.value)", "labelOverlap": false, "labelFlush": false, "labelFontWeight": "bold", "labelFontSize": 8, "labelColor": "black", "labelPadding": 1, "tickSize": 6, "tickColor": "black", "domainColor": "black", "title": "Z", "titleFontWeight": "bold", "titleFontSize": 9, "titleColor": "black", "titleX": -25, "titleBaseline": "middle"}},
   "order": [{"field": "t", "type": "quantitative"}, {"field": "k", "type": "nominal"}]}},
 {"data": {"name": "lev"}, "mark": {"type": "rule", "color": "#222222", "strokeWidth": 1, "strokeDash": [2, 2]}, "encoding": {"y": {"field": "v", "type": "quantitative", "scale": {"domain": [-176, 166.9], "nice": false, "zero": false}, "axis": {"orient": "left", "values": [-150,-100,-50,0,50,100,150], "labels": false, "domain": false, "title": null, "tickSize": 3, "tickColor": "black"}}}},
 {"data": {"name": "marks"}, "mark": {"type": "rule", "color": "#222222", "strokeWidth": 1, "strokeDash": [2, 2]}, "encoding": {"x": {"field": "t", "type": "quantitative", "scale": {"domain": [-0.93, 23.21], "nice": false, "zero": false}, "axis": {"orient": "bottom", "values": [-0.5,0,0.5,1,1.5,2,2.5,3,3.5,4,4.5,5,5.5,6,6.5,7,7.5,8,8.5,9,9.5,10,10.5,11,11.5,12,12.5,13,13.5,14,14.5,15,15.5,16,16.5,17,17.5,18,18.5,19,19.5,20,20.5,21,21.5,22,22.5,23], "labels": false, "domain": false, "title": null, "tickColor": "black", "tickSize": -6, "tickWidth": 1}}}},
 {"data": {"name": "cross"}, "transform": [{"filter": "datum.panel == 'Z'"}], "mark": {"type": "point", "shape": "M-1,0L1,0M0,-1L0,1", "filled": false, "size": 121, "color": "#333333", "strokeWidth": 1, "opacity": 1}, "encoding": {
   "x": {"field": "t", "type": "quantitative", "scale": {"domain": [-0.93, 23.21], "nice": false, "zero": false}, "axis": null},
   "y": {"field": "v", "type": "quantitative", "scale": {"domain": [-176, 166.9], "nice": false, "zero": false}, "axis": null}}},
 {"data": {"name": "notes"}, "transform": [{"filter": "datum.panel == 'Z'"}], "mark": {"type": "text", "align": "left", "baseline": "middle", "fontSize": 6.5, "color": "#333333"}, "encoding": {
   "x": {"field": "t", "type": "quantitative", "scale": {"domain": [-0.93, 23.21], "nice": false, "zero": false}, "axis": null},
   "y": {"field": "v", "type": "quantitative", "scale": {"domain": [-176, 166.9], "nice": false, "zero": false}, "axis": null},
   "text": {"field": "label"}}},
 {"data": {"name": "marks"}, "mark": {"type": "text", "align": "left", "baseline": "middle", "dx": 2, "fontSize": 7, "fontWeight": "bold", "color": "#222222"}, "encoding": {
   "x": {"field": "t", "type": "quantitative", "scale": {"domain": [-0.93, 23.21], "nice": false, "zero": false}, "axis": null},
   "y": {"datum": -121, "type": "quantitative", "scale": {"domain": [-176, 166.9], "nice": false, "zero": false}, "axis": null},
   "text": {"field": "n"}}},
 {"data": {"name": "lev"}, "transform": [{"filter": "datum.v > 0"}], "mark": {"type": "text", "align": "right", "baseline": "bottom", "fontSize": 7, "fontWeight": "bold", "color": "#222222"}, "encoding": {
   "x": {"field": "t", "type": "quantitative", "scale": {"domain": [-0.93, 23.21], "nice": false, "zero": false}, "axis": null},
   "y": {"field": "v", "type": "quantitative", "scale": {"domain": [-176, 166.9], "nice": false, "zero": false}, "axis": null},
   "text": {"field": "lab"}}},
 {"data": {"name": "lev"}, "transform": [{"filter": "datum.v < 0"}], "mark": {"type": "text", "align": "right", "baseline": "top", "fontSize": 7, "fontWeight": "bold", "color": "#222222"}, "encoding": {
   "x": {"field": "t", "type": "quantitative", "scale": {"domain": [-0.93, 23.21], "nice": false, "zero": false}, "axis": null},
   "y": {"field": "v", "type": "quantitative", "scale": {"domain": [-176, 166.9], "nice": false, "zero": false}, "axis": null},
   "text": {"field": "lab"}}}
]}
]
}]
}
